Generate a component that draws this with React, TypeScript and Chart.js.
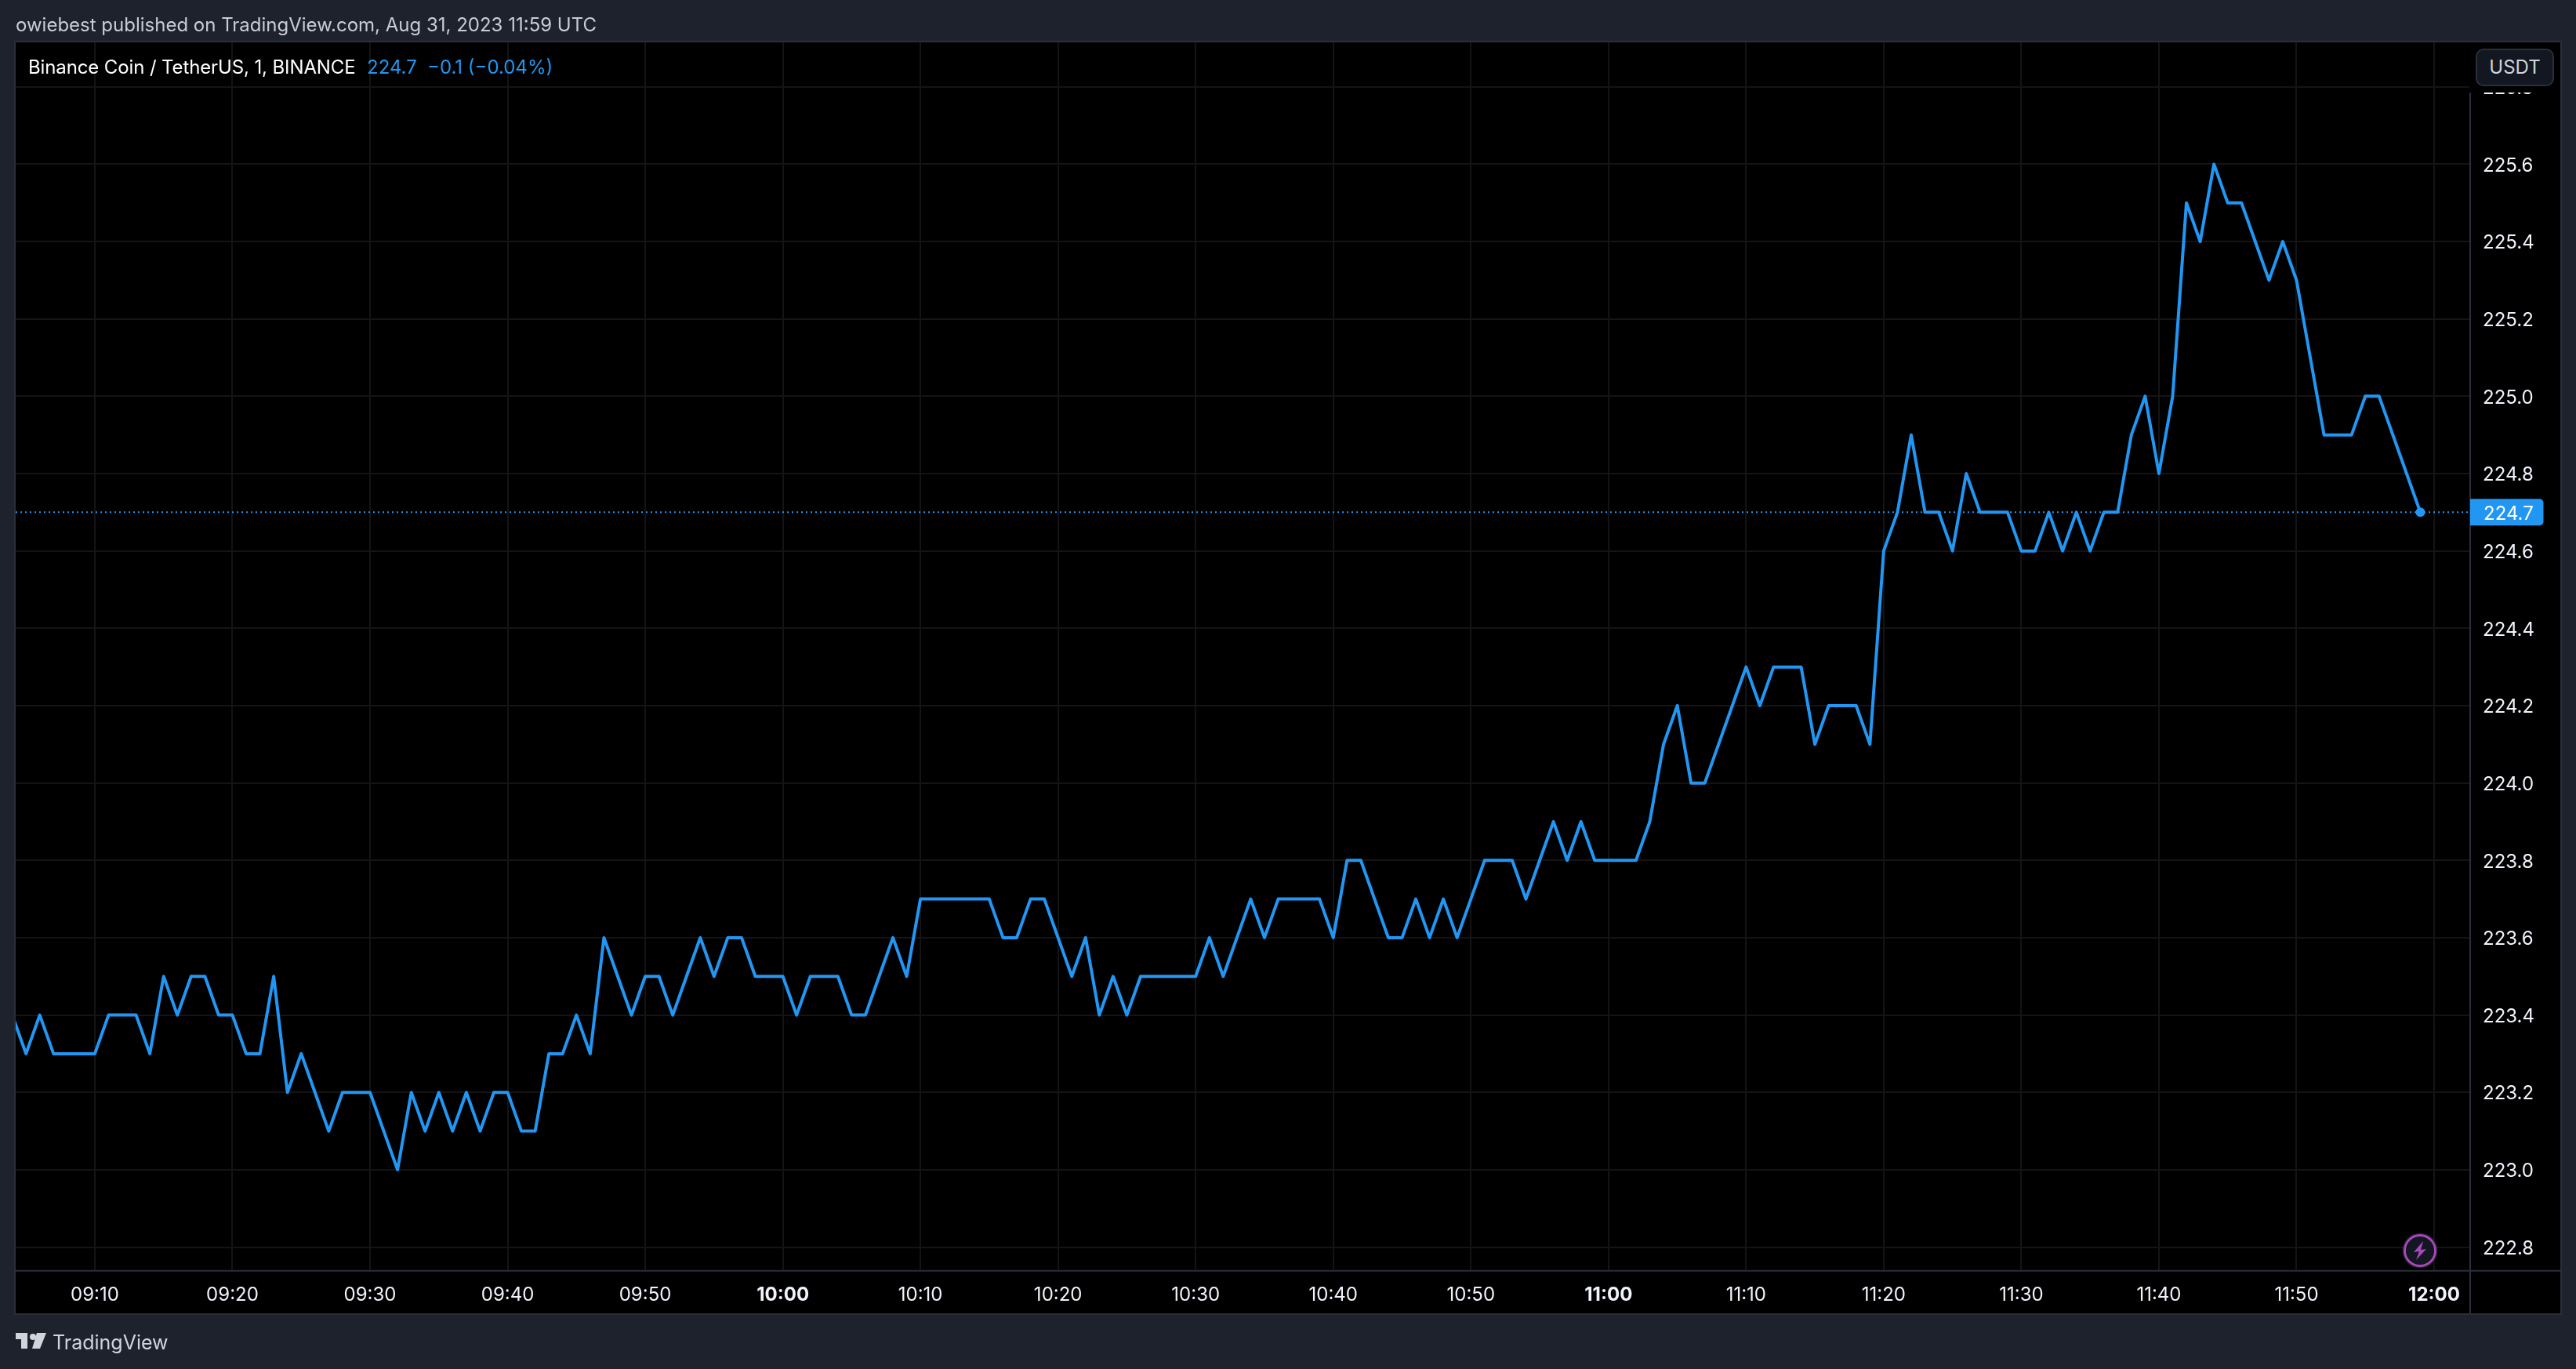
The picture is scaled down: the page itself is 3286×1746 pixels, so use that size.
import React, { useEffect, useRef } from "react";
import { Chart, registerables } from "chart.js";

Chart.register(...registerables);

// Minutes since midnight of the first bar (09:04), one close per minute.
const firstMinute = 544;
const closes = [
  223.4, 223.3, 223.4, 223.3, 223.3, 223.3, 223.3, 223.4, 223.4, 223.4, 223.3, 223.5, 223.4, 223.5, 223.5, 223.4,
  223.4, 223.3, 223.3, 223.5, 223.2, 223.3, 223.2, 223.1, 223.2, 223.2, 223.2, 223.1, 223.0, 223.2, 223.1, 223.2,
  223.1, 223.2, 223.1, 223.2, 223.2, 223.1, 223.1, 223.3, 223.3, 223.4, 223.3, 223.6, 223.5, 223.4, 223.5, 223.5,
  223.4, 223.5, 223.6, 223.5, 223.6, 223.6, 223.5, 223.5, 223.5, 223.4, 223.5, 223.5, 223.5, 223.4, 223.4, 223.5,
  223.6, 223.5, 223.7, 223.7, 223.7, 223.7, 223.7, 223.7, 223.6, 223.6, 223.7, 223.7, 223.6, 223.5, 223.6, 223.4,
  223.5, 223.4, 223.5, 223.5, 223.5, 223.5, 223.5, 223.6, 223.5, 223.6, 223.7, 223.6, 223.7, 223.7, 223.7, 223.7,
  223.6, 223.8, 223.8, 223.7, 223.6, 223.6, 223.7, 223.6, 223.7, 223.6, 223.7, 223.8, 223.8, 223.8, 223.7, 223.8,
  223.9, 223.8, 223.9, 223.8, 223.8, 223.8, 223.8, 223.9, 224.1, 224.2, 224.0, 224.0, 224.1, 224.2, 224.3, 224.2,
  224.3, 224.3, 224.3, 224.1, 224.2, 224.2, 224.2, 224.1, 224.6, 224.7, 224.9, 224.7, 224.7, 224.6, 224.8, 224.7,
  224.7, 224.7, 224.6, 224.6, 224.7, 224.6, 224.7, 224.6, 224.7, 224.7, 224.9, 225.0, 224.8, 225.0, 225.5, 225.4,
  225.6, 225.5, 225.5, 225.4, 225.3, 225.4, 225.3, 225.1, 224.9, 224.9, 224.9, 225.0, 225.0, 224.9, 224.8, 224.7,
];
const timeTicks = [
  550, 560, 570, 580, 590, 600, 610, 620, 630, 640, 650, 660, 670, 680, 690, 700, 710, 720,
];
const priceTicks = [
  222.8, 223.0, 223.2, 223.4, 223.6, 223.8, 224.0, 224.2, 224.4, 224.6, 224.8, 225.0, 225.2, 225.4, 225.6, 225.8,
];
const lastPrice = 224.7;
const xMin = 544.25;
const xMax = 722.62;
const yMin = 222.7389;
const yMax = 225.9150;

const FONT = "Inter, 'Noto Sans', sans-serif";
const BLUE = "#2196f3";
const PAGE = "#1e222d";
const FRAME = "#2a2e39";
const GRID = "#141414";

const pad2 = (n: number) => String(n).padStart(2, "0");
const fmtTime = (m: number) => `${pad2(Math.floor(m / 60))}:${pad2(m % 60)}`;

const paneFrame = {
  id: "paneFrame",
  beforeDraw(chart: any) {
    const { ctx, chartArea: a, width, height, scales } = chart;
    ctx.save();
    ctx.fillStyle = PAGE;
    ctx.fillRect(0, 0, width, height);
    ctx.fillStyle = "#000";
    ctx.fillRect(a.left, a.top, 3266 - a.left, 1675 - a.top);
    ctx.restore();
    // price labels sit slightly below their grid lines
    scales.y.getLabelItems(a).forEach((item: any) => {
      if (!item.nudged) {
        item.textOffset += 2;
        item.nudged = true;
      }
    });
  },
  afterDraw(chart: any) {
    const { ctx, chartArea: a, scales } = chart;
    ctx.save();
    ctx.strokeStyle = FRAME;
    ctx.lineWidth = 2;
    ctx.strokeRect(a.left - 1, a.top - 1, 3266 - a.left + 2, 1675 - a.top + 2);
    ctx.beginPath();
    ctx.moveTo(a.right, a.top);
    ctx.lineTo(a.right, 1675);
    ctx.moveTo(a.left, a.bottom);
    ctx.lineTo(3266, a.bottom);
    ctx.stroke();
    // backdrop behind the currency button
    ctx.fillStyle = "#000";
    ctx.fillRect(a.right - 1, a.top, 3266 - a.right + 1, 64);
    // last price tag
    const y = scales.y.getPixelForValue(lastPrice);
    ctx.fillStyle = BLUE;
    ctx.beginPath();
    ctx.roundRect(a.right, y - 17, 93.5, 34, [0, 5, 5, 0]);
    ctx.fill();
    ctx.fillStyle = "#fff";
    ctx.font = `24px ${FONT}`;
    ctx.textAlign = "left";
    ctx.textBaseline = "middle";
    ctx.fillText(lastPrice.toFixed(1), a.right + 17, y + 2);
    ctx.restore();
  },
};

export default function App() {
  const ref = useRef<HTMLCanvasElement | null>(null);

  useEffect(() => {
    document.body.style.margin = "0";
    document.body.style.background = PAGE;
    const points = closes.map((y, i) => ({ x: firstMinute + i, y }));
    const last = points.length - 1;
    const chart = new Chart(ref.current as HTMLCanvasElement, {
      type: "line",
      data: {
        datasets: [
          {
            label: "Last price",
            data: [
              { x: xMin, y: lastPrice },
              { x: xMax, y: lastPrice },
            ],
            borderColor: BLUE,
            borderWidth: 2,
            borderDash: [2, 4],
            pointRadius: 0,
            order: 2,
          },
          {
            label: "BNBUSDT",
            data: points,
            borderColor: BLUE,
            backgroundColor: BLUE,
            borderWidth: 4,
            borderJoinStyle: "round",
            borderCapStyle: "round",
            tension: 0,
            pointRadius: (c: any) => (c.dataIndex === last ? 6 : 0),
            pointBorderWidth: 0,
            order: 1,
          },
        ],
      },
      options: {
        responsive: false,
        animation: false,
        devicePixelRatio: 1,
        layout: { padding: { left: 20, top: 54, right: 20, bottom: 71 } },
        plugins: { legend: { display: false }, tooltip: { enabled: false } },
        scales: {
          x: {
            type: "linear",
            min: xMin,
            max: xMax,
            afterBuildTicks: (s: any) => {
              s.ticks = timeTicks.map((value) => ({ value }));
            },
            afterFit: (s: any) => {
              s.height = 54.3;
            },
            grid: { color: GRID, lineWidth: 2, drawTicks: false },
            border: { display: false },
            ticks: {
              autoSkip: false,
              maxRotation: 0,
              padding: 17,
              color: "#f0f3fa",
              font: (c: any) => ({
                family: FONT,
                size: 24,
                weight: c.tick && c.tick.value % 60 === 0 ? 700 : 400,
              }),
              callback: (v: any) => fmtTime(Number(v)),
            },
          },
          y: {
            type: "linear",
            position: "right",
            min: yMin,
            max: yMax,
            afterBuildTicks: (s: any) => {
              s.ticks = priceTicks.map((value) => ({ value }));
            },
            afterFit: (s: any) => {
              s.width = 115;
            },
            grid: { color: GRID, lineWidth: 2, drawTicks: false },
            border: { display: false },
            ticks: {
              autoSkip: false,
              padding: 16,
              color: "#f0f3fa",
              font: { family: FONT, size: 24 },
              callback: (v: any) => Number(v).toFixed(1),
            },
          },
        },
      },
      plugins: [paneFrame],
    } as any);
    return () => chart.destroy();
  }, []);

  const text = (left: number, centre: number, color: string, size = 24): React.CSSProperties => ({
    position: "absolute",
    left,
    top: centre - 20,
    height: 40,
    lineHeight: "40px",
    color,
    fontFamily: FONT,
    fontSize: size,
    whiteSpace: "pre",
  });

  return (
    <div style={{ position: "relative", width: 3286, height: 1746, overflow: "hidden" }}>
      <canvas ref={ref} width={3286} height={1746} style={{ display: "block", width: 3286, height: 1746 }} />
      <div style={text(20, 32, "#c9cbd6")}>owiebest published on TradingView.com, Aug 31, 2023 11:59 UTC</div>
      <div style={{ ...text(36, 86, "#ffffff"), letterSpacing: "-0.12px" }}>Binance Coin / TetherUS, 1, BINANCE</div>
      <div style={text(468, 86, BLUE)}>224.7</div>
      <div style={text(545, 86, BLUE)}>−0.1 (−0.04%)</div>
      <div
        style={{
          position: "absolute",
          left: 3158,
          top: 62,
          width: 100,
          height: 48,
          boxSizing: "border-box",
          borderRadius: 10,
          border: `2px solid ${FRAME}`,
          background: "#131722",
          color: "#d1d4dc",
          fontFamily: FONT,
          fontSize: 24,
          lineHeight: "44px",
          textAlign: "center",
        }}
      >
        USDT
      </div>
      <svg style={{ position: "absolute", left: 3062, top: 1570 }} width={50} height={50} viewBox="0 0 50 50">
        <circle cx={25} cy={25} r={22.5} fill="#1e222d" />
        <circle cx={25} cy={25} r={19.5} fill="#131722" stroke="#ab47bc" strokeWidth={2.8} />
        <path d="M29 13 L17 27 L24 26 L20 37 L33 23 L26 24 Z" fill="#ab47bc" />
      </svg>
      <svg style={{ position: "absolute", left: 20, top: 1700 }} width={40} height={20} viewBox="0 0 40 20">
        <path d="M0 0 H15 V20 H7 V8 H0 Z" fill="#d1d4dc" />
        <circle cx={22} cy={5} r={4} fill="#d1d4dc" />
        <path d="M27 0 H39 L31 20 H21 Z" fill="#d1d4dc" />
      </svg>
      <div style={text(67, 1712, "#d1d4dc", 25)}>TradingView</div>
    </div>
  );
}
